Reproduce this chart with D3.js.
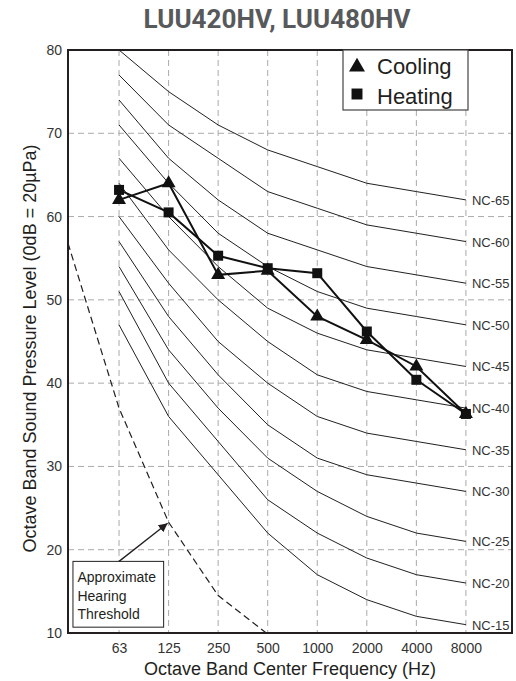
<!DOCTYPE html>
<html>
<head>
<meta charset="utf-8">
<script src="https://cdn.jsdelivr.net/npm/d3@7"></script>
<style>
  html, body { margin: 0; padding: 0; background: #fff; }
  svg { display: block; }
</style>
</head>
<body>
<svg id="chart" width="516" height="681"></svg>
<script>
// ---------- data ----------
const freqLabels = ["63", "125", "250", "500", "1000", "2000", "4000", "8000"];
const yTicks = [10, 20, 30, 40, 50, 60, 70, 80];
const coolingValues = [62, 64, 53, 53.5, 48, 45.2, 42, 36.3];
const heatingValues = [63.2, 60.5, 55.3, 53.8, 53.2, 46.2, 40.4, 36.3];
const ncNames = ["NC-65", "NC-60", "NC-55", "NC-50", "NC-45", "NC-40", "NC-35", "NC-30", "NC-25", "NC-20", "NC-15"];
const ncValues = [
  [80, 75, 71, 68, 66, 64, 63, 62],
  [77, 71, 67, 63, 61, 59, 58, 57],
  [74, 67, 62, 58, 56, 54, 53, 52],
  [71, 64, 58, 54, 51, 49, 48, 47],
  [67, 60, 54, 49, 46, 44, 43, 42],
  [64, 56, 50, 45, 41, 39, 38, 37],
  [60, 52, 45, 40, 36, 34, 33, 32],
  [57, 48, 41, 35, 31, 29, 28, 27],
  [54, 44, 37, 31, 27, 24, 22, 21],
  [51, 40, 33, 26, 22, 19, 17, 16],
  [47, 36, 29, 22, 17, 14, 12, 11]
];
// hearing threshold: band index (-1 = left edge, 31.5 Hz) and level
const thresholdIndex = [-1.03, 0, 1, 2, 2.97];
const thresholdValues = [56.8, 37, 23.3, 14.5, 10];
const seriesNames = ["Cooling", "Heating"];
const titleText = "LUU420HV, LUU480HV";
const yTitle = "Octave Band Sound Pressure Level (0dB = 20µPa)";
const xTitle = "Octave Band Center Frequency (Hz)";
const noteLines = ["Approximate", "Hearing", "Threshold"];

// ---------- layout ----------
const L = 68, R = 512, T = 50, B = 633;
const svg = d3.select("#chart");
const x = d3.scaleLinear().domain([-1.03, 7.93]).range([L, R]);
const y = d3.scaleLinear().domain([10, 80]).range([B, T]);
const FONT = "'Liberation Sans', Arial, sans-serif";
const idx = freqLabels.map((d, i) => i);

// title
svg.append("text")
  .attr("x", 277).attr("y", 28)
  .attr("text-anchor", "middle")
  .attr("font-family", "Roboto, sans-serif")
  .attr("font-weight", 700)
  .attr("font-size", 25)
  .attr("fill", "#58595b")
  .attr("textLength", 267)
  .attr("lengthAdjust", "spacingAndGlyphs")
  .text(titleText);

// grid
const grid = svg.append("g").attr("stroke", "#aaa").attr("stroke-width", 1).attr("stroke-dasharray", "6,4");
grid.selectAll("line.h").data(yTicks.filter(v => v > 10 && v < 80)).join("line")
  .attr("x1", L).attr("x2", R).attr("y1", d => y(d)).attr("y2", d => y(d));
grid.selectAll("line.v").data(idx).join("line")
  .attr("y1", T).attr("y2", B).attr("x1", d => x(d)).attr("x2", d => x(d));

// NC curves
const line = d3.line().x((d, i) => x(i)).y(d => y(d));
const nc = svg.append("g");
nc.selectAll("path").data(ncValues).join("path")
  .attr("d", d => line(d))
  .attr("fill", "none").attr("stroke", "#231f20").attr("stroke-width", 1);
nc.selectAll("text").data(ncValues).join("text")
  .attr("x", x(7) + 6).attr("y", d => y(d[7]) + 5)
  .attr("font-family", FONT).attr("font-size", 13).attr("fill", "#333")
  .text((d, i) => ncNames[i]);

// hearing threshold
const thrLine = d3.line().x(d => x(d[0])).y(d => y(d[1]));
svg.append("path")
  .attr("d", thrLine(thresholdIndex.map((v, i) => [v, thresholdValues[i]])))
  .attr("fill", "none").attr("stroke", "#231f20").attr("stroke-width", 1.2)
  .attr("stroke-dasharray", "7,4");

// annotation
svg.append("defs").append("marker")
  .attr("id", "arr").attr("viewBox", "0 0 10 10").attr("refX", 10).attr("refY", 5)
  .attr("markerWidth", 9).attr("markerHeight", 9).attr("orient", "auto")
  .attr("markerUnits", "userSpaceOnUse")
  .append("path").attr("d", "M0,0 L10,5 L0,10 z").attr("fill", "#231f20");
const boxTop = y(18.6), boxBot = y(10.7);
svg.append("rect")
  .attr("x", x(-0.93)).attr("y", boxTop)
  .attr("width", x(0.9) - x(-0.93)).attr("height", boxBot - boxTop)
  .attr("fill", "#fff").attr("stroke", "#231f20").attr("stroke-width", 1);
svg.append("line")
  .attr("x1", x(0)).attr("y1", boxTop)
  .attr("x2", x(1) - 1).attr("y2", y(thresholdValues[2]) + 1)
  .attr("stroke", "#231f20").attr("stroke-width", 1.3)
  .attr("marker-end", "url(#arr)");
svg.append("g").selectAll("text").data(noteLines).join("text")
  .attr("x", x(-0.93) + 4.5).attr("y", (d, i) => boxTop + 21 + i * 18.5)
  .attr("font-family", FONT).attr("font-size", 14).attr("fill", "#231f20")
  .text(d => d);

// series
const sLine = d3.line().x((d, i) => x(i)).y(d => y(d));
const series = [coolingValues, heatingValues];
const symbols = [d3.symbolTriangle, d3.symbolSquare];
const symSizes = [85, 100];
series.forEach((vals, s) => {
  svg.append("path").attr("d", sLine(vals))
    .attr("fill", "none").attr("stroke", "#111").attr("stroke-width", 2);
});
series.forEach((vals, s) => {
  svg.append("g").selectAll("path").data(vals).join("path")
    .attr("transform", (d, i) => `translate(${x(i)},${y(d)})`)
    .attr("d", d3.symbol().type(symbols[s]).size(symSizes[s]))
    .attr("fill", "#111");
});

// plot border
svg.append("rect").attr("x", L).attr("y", T).attr("width", R - L).attr("height", B - T)
  .attr("fill", "none").attr("stroke", "#231f20").attr("stroke-width", 2);

// axes
const yAxis = svg.append("g").attr("transform", `translate(${L},0)`)
  .call(d3.axisLeft(y).tickValues(yTicks).tickSize(0).tickPadding(6));
yAxis.select(".domain").remove();
yAxis.selectAll("text").attr("font-family", FONT).attr("font-size", 14).attr("fill", "#333");

const xAxis = svg.append("g").attr("transform", `translate(0,${B})`)
  .call(d3.axisBottom(x).tickValues(idx).tickFormat(i => freqLabels[i]).tickSize(0).tickPadding(10));
xAxis.select(".domain").remove();
xAxis.selectAll("text").attr("font-family", FONT).attr("font-size", 14).attr("fill", "#333");

svg.append("text")
  .attr("x", 290).attr("y", 675).attr("text-anchor", "middle")
  .attr("font-family", FONT).attr("font-size", 18).attr("fill", "#231f20")
  .text(xTitle);
svg.append("text")
  .attr("transform", `translate(36,${(T + B) / 2 + 7}) rotate(-90)`)
  .attr("text-anchor", "middle")
  .attr("font-family", FONT).attr("font-size", 18).attr("fill", "#231f20")
  .text(yTitle);

// legend
const lg = svg.append("g");
lg.append("rect").attr("x", 343).attr("y", T).attr("width", 125).attr("height", 60)
  .attr("fill", "#fff").attr("stroke", "#444").attr("stroke-width", 1.2);
seriesNames.forEach((name, s) => {
  lg.append("path")
    .attr("transform", `translate(357,${T + 17 + s * 27})`)
    .attr("d", d3.symbol().type(symbols[s]).size(s === 0 ? 110 : 120))
    .attr("fill", "#111");
  lg.append("text")
    .attr("x", 377).attr("y", T + 24 + s * 30)
    .attr("font-family", FONT).attr("font-size", 22).attr("fill", "#231f20")
    .text(name);
});
</script>
</body>
</html>
